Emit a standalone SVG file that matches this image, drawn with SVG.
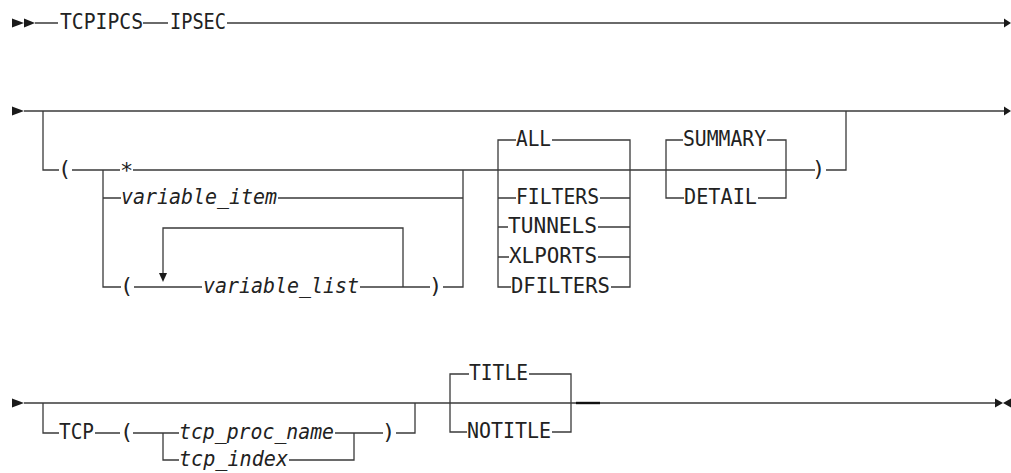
<svg xmlns="http://www.w3.org/2000/svg" width="1011" height="473" viewBox="0 0 1011 473">
<style>
.ln{fill:none;stroke:#3a3a3a;stroke-width:1.3;stroke-linecap:butt;stroke-linejoin:miter}
.ar{fill:#1a1a1a;stroke:none}
text{font-family:"DejaVu Sans Mono","Liberation Mono",monospace;font-size:22px;fill:#222}
.it{font-style:italic}
</style>
<rect width="1011" height="473" fill="#fff"/>
<g id="connectors">
<polygon class="ar" points="12,18.5 24,23 12,27.5"/>
<polygon class="ar" points="24,18.5 35,23 24,27.5"/>
<path class="ln" d="M35,23H58M143,23H168M227,23H1005"/>
<polygon class="ar" points="1004,18.5 1011,23 1004,27.5"/>
<polygon class="ar" points="12,106.5 24,111 12,115.5"/>
<path class="ln" d="M24,111H1005"/>
<polygon class="ar" points="1004,106.5 1011,111 1004,115.5"/>
<path class="ln" d="M43,111V170H59M72,170H120M133,170H815M826,170H846V111"/>
<path class="ln" d="M103,170V287H121M103,198H121M278,198H463M134,287H202M360,287H430M443,287H463V170"/>
<path class="ln" d="M403,287V228H163V274"/>
<polygon class="ar" points="159,273 167,273 163,282"/>
<path class="ln" d="M498,170V140H516M552,140H630V287H611M498,170V287H511M498,198H516M600,198H630M498,227H508M598,227H630M498,257H509M598,257H630"/>
<path class="ln" d="M666,170V140H683M767,140H786V198H758M666,170V198H684"/>
<polygon class="ar" points="12,398.5 24,403 12,407.5"/>
<path class="ln" d="M24,403H995"/>
<path d="M576,403H600" stroke="#111" stroke-width="2.4" fill="none"/>
<polygon class="ar" points="995,398.5 1003,403 995,407.5"/>
<polygon class="ar" points="1011,398.5 1003,403 1011,407.5"/>
<path class="ln" d="M43,403V433H59M95,433H120M133,433H179M335,433H383M396,433H415V403"/>
<path class="ln" d="M163,433V460H179M289,460H354V433"/>
<path class="ln" d="M450,403V374H469M529,374H571V432H552M450,403V432H467"/>
</g>
<g id="n-tcpipcs"><text x="60" y="29" textLength="83" lengthAdjust="spacingAndGlyphs">TCPIPCS</text></g>
<g id="n-ipsec"><text x="170" y="29" textLength="56" lengthAdjust="spacingAndGlyphs">IPSEC</text></g>
<g id="n-lparen1"><text x="58" y="176">(</text></g>
<g id="n-star"><text x="120" y="178">*</text></g>
<g id="n-variable-item"><text class="it" x="121" y="204" textLength="156" lengthAdjust="spacingAndGlyphs">variable_item</text></g>
<g id="n-lparen2"><text x="120" y="293">(</text></g>
<g id="n-variable-list"><text class="it" x="203" y="293" textLength="156" lengthAdjust="spacingAndGlyphs">variable_list</text></g>
<g id="n-rparen2"><text x="429" y="293">)</text></g>
<g id="n-all"><text x="516" y="146" textLength="35" lengthAdjust="spacingAndGlyphs">ALL</text></g>
<g id="n-filters"><text x="516" y="204" textLength="83" lengthAdjust="spacingAndGlyphs">FILTERS</text></g>
<g id="n-tunnels"><text x="508" y="233" textLength="89" lengthAdjust="spacingAndGlyphs">TUNNELS</text></g>
<g id="n-xlports"><text x="509" y="263" textLength="88" lengthAdjust="spacingAndGlyphs">XLPORTS</text></g>
<g id="n-dfilters"><text x="511" y="293" textLength="99" lengthAdjust="spacingAndGlyphs">DFILTERS</text></g>
<g id="n-summary"><text x="683" y="146" textLength="83" lengthAdjust="spacingAndGlyphs">SUMMARY</text></g>
<g id="n-detail"><text x="684" y="204" textLength="73" lengthAdjust="spacingAndGlyphs">DETAIL</text></g>
<g id="n-rparen1"><text x="812" y="176">)</text></g>
<g id="n-tcp"><text x="59" y="439" textLength="35" lengthAdjust="spacingAndGlyphs">TCP</text></g>
<g id="n-lparen3"><text x="120" y="439">(</text></g>
<g id="n-tcp-proc-name"><text class="it" x="179" y="439" textLength="155" lengthAdjust="spacingAndGlyphs">tcp_proc_name</text></g>
<g id="n-tcp-index"><text class="it" x="179" y="466" textLength="109" lengthAdjust="spacingAndGlyphs">tcp_index</text></g>
<g id="n-rparen3"><text x="382" y="439">)</text></g>
<g id="n-title"><text x="469" y="380" textLength="59" lengthAdjust="spacingAndGlyphs">TITLE</text></g>
<g id="n-notitle"><text x="467" y="438" textLength="84" lengthAdjust="spacingAndGlyphs">NOTITLE</text></g>
</svg>
